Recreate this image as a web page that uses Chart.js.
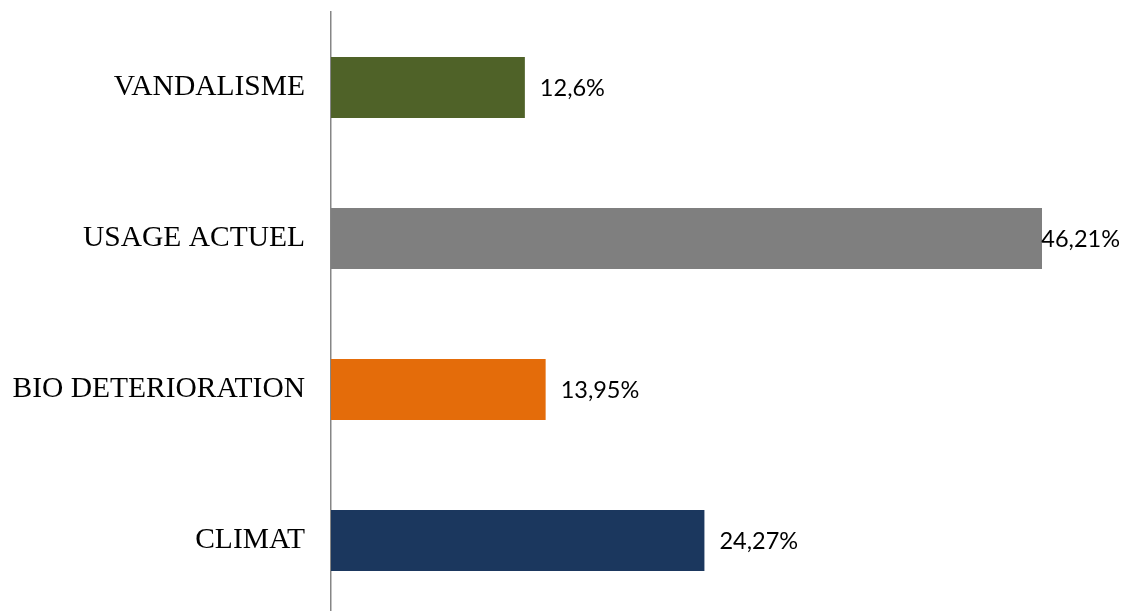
<!DOCTYPE html>
<html>
<head>
<meta charset="utf-8">
<script src="https://cdn.jsdelivr.net/npm/chart.js@4/dist/chart.umd.min.js"></script>
<style>
    html, body { margin: 0; padding: 0; background: #ffffff; overflow: hidden; }
    #chart { display: block; }
</style>
</head>
<body>
<canvas id="chart" width="1129" height="616"></canvas>
<script>
const categories = ['VANDALISME', 'USAGE ACTUEL', 'BIO DETERIORATION', 'CLIMAT'];
const values = [12.6, 46.21, 13.95, 24.27];
const barColors = ['#4F6228', '#7F7F7F', '#E46C0A', '#1B375E'];

// etiquettes de valeur a droite des barres (ramenees dans le cadre si trop longues)
const valueLabels = {
    id: 'valueLabels',
    afterDatasetsDraw(chart) {
        const ctx = chart.ctx;
        const meta = chart.getDatasetMeta(0);
        ctx.save();
        ctx.font = '23.5px Lato';
        ctx.fillStyle = '#000000';
        ctx.textAlign = 'left';
        ctx.textBaseline = 'middle';
        meta.data.forEach((bar, i) => {
            const txt = values[i].toString().replace('.', ',') + '%';
            const w = ctx.measureText(txt).width;
            const x = Math.min(bar.x + 15, chart.width - 9 - w);
            ctx.fillText(txt, x, bar.y + 1);
        });
        ctx.restore();
    }
};

const ctx = document.getElementById('chart').getContext('2d');
new Chart(ctx, {
    type: 'bar',
    data: {
        labels: categories,
        datasets: [{
            data: values,
            backgroundColor: barColors,
            borderWidth: 0,
            barPercentage: 0.404,
            categoryPercentage: 1
        }]
    },
    options: {
        indexAxis: 'y',
        responsive: false,
        animation: false,
        layout: { padding: { top: 12, right: 87, bottom: 0, left: 0 } },
        plugins: {
            legend: { display: false },
            tooltip: { enabled: false }
        },
        scales: {
            x: {
                display: false,
                min: 0,
                max: 46.21
            },
            y: {
                afterFit(scale) {
                    scale.width = 331;
                    scale.paddingTop = 0;
                    scale.paddingBottom = 0;
                },
                grid: { display: false, drawTicks: false },
                border: { display: true, color: '#868686', width: 1.5 },
                ticks: {
                    color: '#000000',
                    padding: 26,
                    font: { family: 'Liberation Serif', size: 29.5 }
                }
            }
        }
    },
    plugins: [valueLabels]
});
</script>
</body>
</html>
